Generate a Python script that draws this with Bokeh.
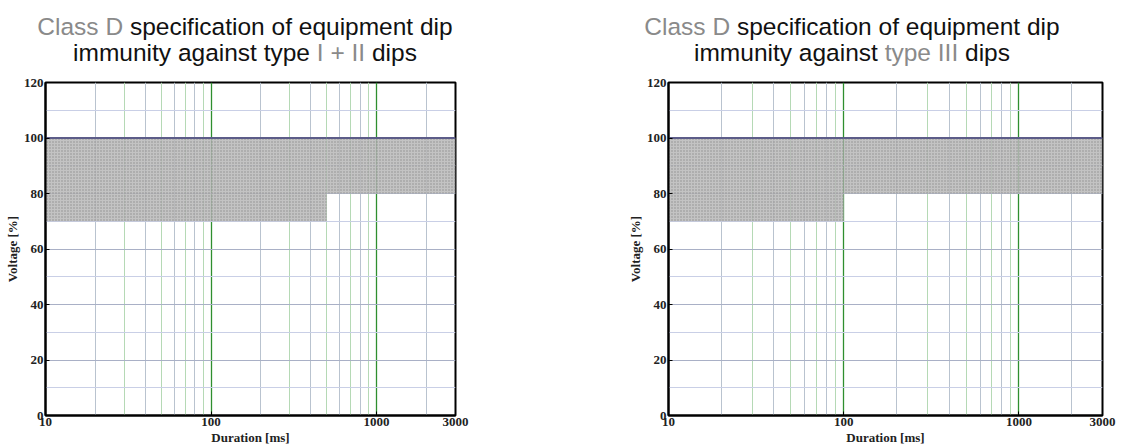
from bokeh.plotting import figure
from bokeh.layouts import row, column
from bokeh.models import FixedTicker, Grid, Div, PrintfTickFormatter
from bokeh.embed import file_html
from bokeh.resources import INLINE

# ---- data ----
x_ticks = [10, 100, 1000, 3000]
y_ticks = [0, 20, 40, 60, 80, 100, 120]

# Type I + II dips: immunity region (duration ms, voltage %)
left_start = [10, 500]
left_end = [500, 3000]
left_bottom = [70, 80]
left_top = [100, 100]

# Type III dips
right_start = [10, 100]
right_end = [100, 3000]
right_bottom = [70, 80]
right_top = [100, 100]

# grid positions
vgrid_a = [20, 40, 60, 80, 200, 400, 600, 800, 2000]
vgrid_b = [30, 50, 70, 90, 300, 500, 700, 900]
vgrid_dec = [100, 1000]
hgrid_minor = [10, 30, 50, 70, 90, 110]
hgrid_major = [20, 40, 60, 80]

SERIF = "Liberation Serif"
SANS = "Liberation Sans"
GREY = "#8a8a8a"


def make_fig(fw, bl, br, starts, ends, bottoms, tops):
    p = figure(x_axis_type="log", x_range=(10, 3000), y_range=(0, 120),
               frame_width=fw, frame_height=333, min_border_left=bl, min_border_right=br,
               min_border_top=8, min_border_bottom=25,
               output_backend="svg", toolbar_location=None)
    p.xgrid.visible = False
    p.ygrid.visible = False
    for ticks, col, w in [(vgrid_a, "#b9c3cf", 1), (vgrid_b, "#b5d9b5", 1), (vgrid_dec, "#2f8f2f", 1.3)]:
        g = Grid(dimension=0, ticker=FixedTicker(ticks=ticks), grid_line_color=col, grid_line_width=w)
        p.add_layout(g)
    for ticks, col in [(hgrid_minor, "#c9cfe6"), (hgrid_major, "#a9b0c6")]:
        g = Grid(dimension=1, ticker=FixedTicker(ticks=ticks), grid_line_color=col, grid_line_width=1)
        p.add_layout(g)

    p.quad(left=starts, right=ends, bottom=bottoms, top=tops,
           fill_color="#b9b9b9", fill_alpha=0.85, line_color=None,
           hatch_pattern="dot", hatch_scale=3, hatch_color="#767676", hatch_weight=1, hatch_alpha=0.7)
    p.segment(x0=starts, x1=ends, y0=tops, y1=tops, line_color="#5c5c88", line_width=2)

    p.xaxis.ticker = FixedTicker(ticks=x_ticks, minor_ticks=[])
    p.xaxis.formatter = PrintfTickFormatter(format="%d")
    p.yaxis.ticker = FixedTicker(ticks=y_ticks, minor_ticks=[])
    p.xaxis.axis_label = "Duration [ms]"
    p.yaxis.axis_label = "Voltage [%]"
    for ax in (p.xaxis, p.yaxis):
        ax.axis_line_color = "black"
        ax.axis_line_width = 2
        ax.major_tick_in = 4
        ax.major_tick_out = 0
        ax.major_tick_line_color = "black"
        ax.minor_tick_line_color = None
        ax.major_label_text_font = SERIF
        ax.major_label_text_font_style = "bold"
        ax.major_label_text_font_size = "13px"
        ax.major_label_text_color = "#222222"
        ax.axis_label_text_font = SERIF
        ax.axis_label_text_font_style = "bold"
        ax.axis_label_text_font_size = "13px"
        ax.axis_label_text_color = "#222222"
        ax.major_label_standoff = 2
        ax.axis_label_standoff = 1
    p.outline_line_color = "black"
    p.outline_line_width = 2
    p.outline_line_alpha = 1
    return p


def title_div(width, inner_w, margin_left, html):
    return Div(width=width, height=64, text=(
        f'<div style="width:{inner_w}px;margin-left:{margin_left}px;padding-top:9px;'
        f'text-align:center;font-family:{SANS};font-size:24.5px;line-height:26px;color:#111;white-space:nowrap">'
        + html + '</div>'))


t1 = title_div(552, 480, 0,
               f'<span style="color:{GREY}">Class D</span> specification of equipment dip<br>'
               f'immunity against type <span style="color:{GREY}">I + II</span> dips')
t2 = title_div(561, 500, 35,
               f'<span style="color:{GREY}">Class D</span> specification of equipment dip<br>'
               f'immunity against <span style="color:{GREY}">type III</span> dips')

p1 = make_fig(410, 45, 97, left_start, left_end, left_bottom, left_top)
p2 = make_fig(434, 106, 18, right_start, right_end, right_bottom, right_top)

layout = row(column(t1, p1), column(t2, p2))
open("out.html", "w").write(file_html(layout, INLINE))
